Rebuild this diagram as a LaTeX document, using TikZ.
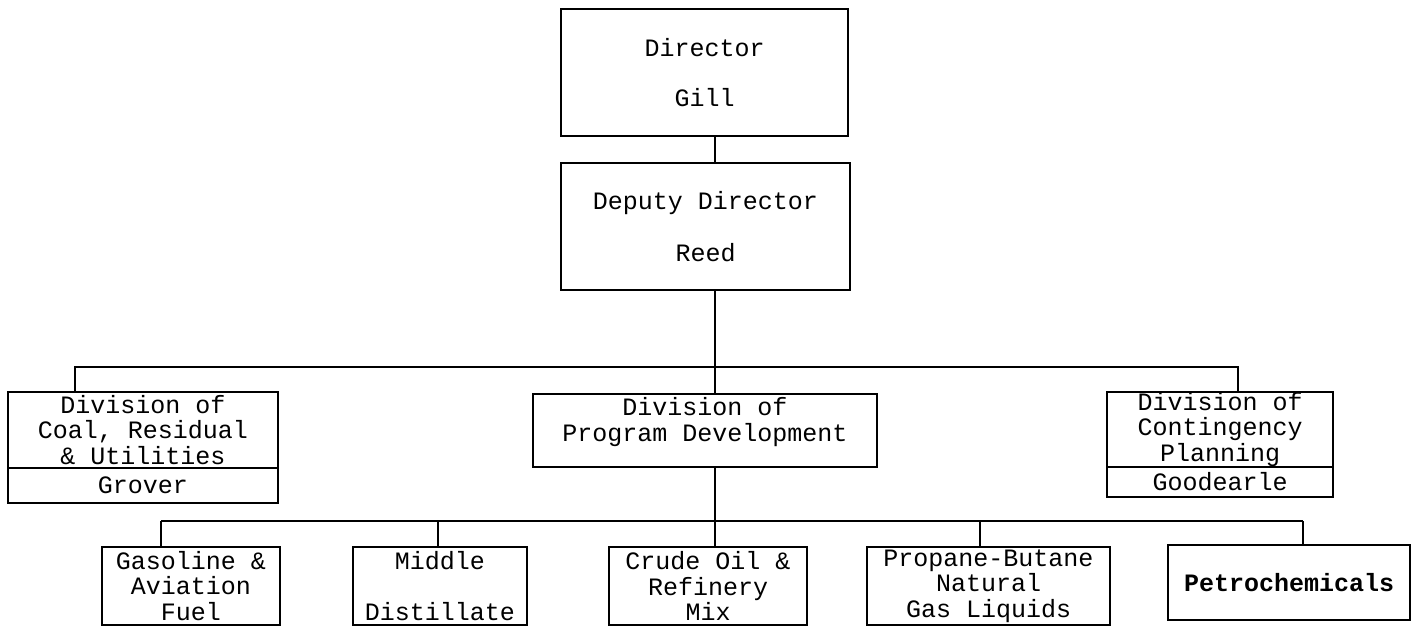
\documentclass[tikz,border=0pt]{standalone}
\usepackage{fontspec}
\setmonofont{Liberation Mono}
\usetikzlibrary{positioning}

\begin{document}
\begin{tikzpicture}[x=0.5pt, y=-0.5pt,
    box/.style={draw, line width=1.2pt, outer sep=0pt, inner sep=0pt, align=center,
      font=\ttfamily\fontsize{12.5}{12.8}\selectfont},
    link/.style={line width=0.85pt}]
  \useasboundingbox (0,0) rectangle (1412,635);
  % top of the chart
  \node [box, minimum width=143.5pt, minimum height=63.5pt] (dir) at (704.5,72.5)
    {Director\\[12pt]Gill};
  \node [box, minimum width=144.5pt, minimum height=63.5pt] (dep) at (705.5,226.5)
    {Deputy Director\\[13pt]Reed};
  % divisions
  \node [box, minimum width=135pt, minimum height=38pt] (coal) at (143,430)
    {Division of\\Coal, Residual\\\& Utilities};
  \node [box, minimum width=135pt, minimum height=17.5pt, below=0pt of coal] (grover) {Grover};
  \node [box, minimum width=172pt, minimum height=36.5pt, text depth=11pt] (pd) at (705,430.5)
    {Division of\\Program Development};
  \node [box, minimum width=113pt, minimum height=37.5pt] (cont) at (1220,429.5)
    {Division of\\Contingency\\Planning};
  \node [box, minimum width=113pt, minimum height=15pt, below=0pt of cont] (goodearle) {Goodearle};
  % branches
  \node [box, minimum width=89pt, minimum height=39pt] (gas) at (191,586)
    {Gasoline \&\\Aviation\\Fuel};
  \node [box, minimum width=87pt, minimum height=39pt] (mid) at (440,586)
    {Middle\\[12.7pt]Distillate};
  \node [box, minimum width=99pt, minimum height=39pt] (crude) at (708,586)
    {Crude Oil \&\\Refinery\\Mix};
  \node [box, minimum width=121.5pt, minimum height=39pt] (prop) at (988.5,586)
    {Propane-Butane\\Natural\\Gas Liquids};
  \node [box, minimum width=121pt, minimum height=37.5pt,
    font=\ttfamily\bfseries\fontsize{12.5}{12.8}\selectfont] (petro) at (1289,582.5)
    {Petrochemicals};
  % lines
  \coordinate (stem) at (715,0);
  \coordinate (lcoal) at (75,367);
  \coordinate (lcont) at (1238,367);
  \draw [link] (dir.south -| stem) -- (dep.north -| stem);
  \draw [link] (dep.south -| stem) -- (pd.north -| stem);
  \draw [link] (lcoal |- coal.north) -- (lcoal) -- (lcont) -- (lcont |- cont.north);
  \draw [link] (pd.south -| stem) -- (crude.north -| stem);
  \foreach \n/\x in {gas/161, mid/438, prop/980, petro/1303} {
    \coordinate (d\n) at (\x,521);
    \draw [link] (d\n) -- (d\n |- \n.north);
  }
  \draw [link] (dgas) -- (dpetro);
\end{tikzpicture}
\end{document}
